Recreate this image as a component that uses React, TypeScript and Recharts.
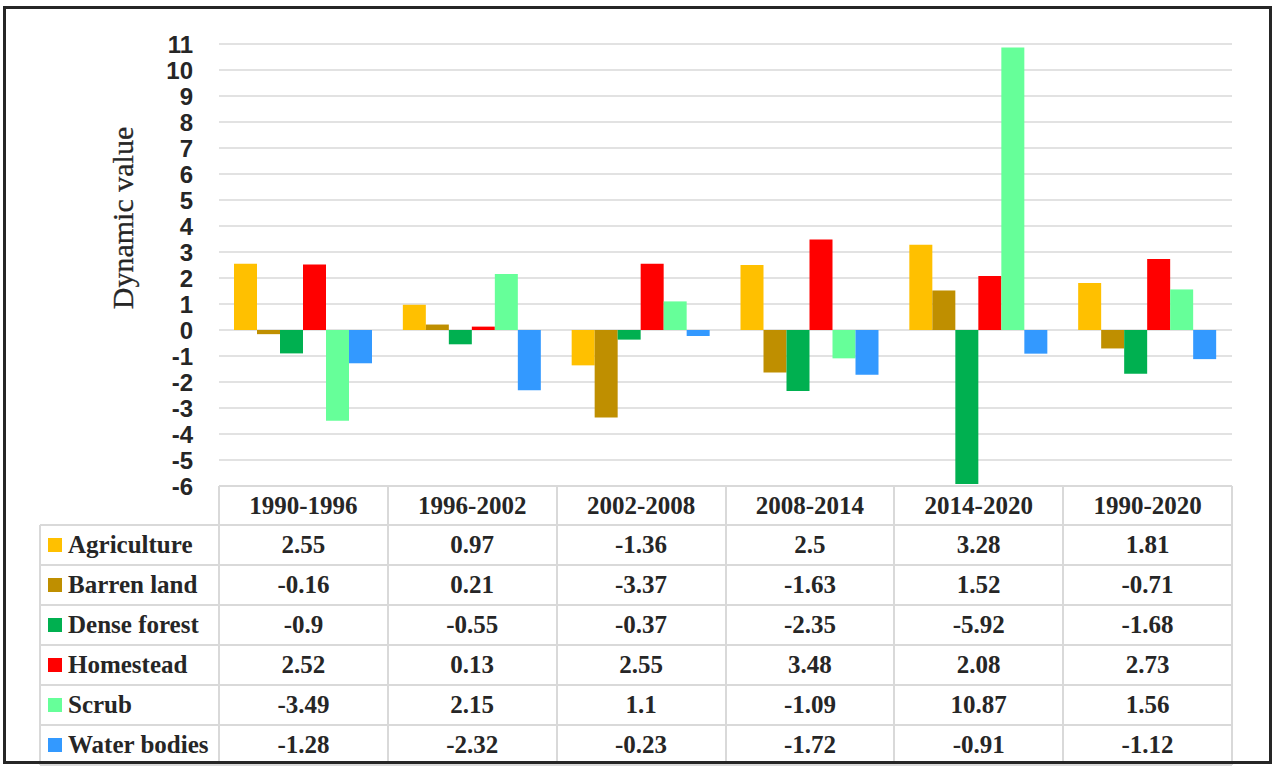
import React from "react";
import { Bar, BarChart, CartesianGrid, XAxis, YAxis } from "recharts";

const periods = ["1990-1996", "1996-2002", "2002-2008", "2008-2014", "2014-2020", "1990-2020"];

const agriculture = [2.55, 0.97, -1.36, 2.5, 3.28, 1.81];
const barrenLand = [-0.16, 0.21, -3.37, -1.63, 1.52, -0.71];
const denseForest = [-0.9, -0.55, -0.37, -2.35, -5.92, -1.68];
const homestead = [2.52, 0.13, 2.55, 3.48, 2.08, 2.73];
const scrub = [-3.49, 2.15, 1.1, -1.09, 10.87, 1.56];
const waterBodies = [-1.28, -2.32, -0.23, -1.72, -0.91, -1.12];

const yTicks = [-6, -5, -4, -3, -2, -1, 0, 1, 2, 3, 4, 5, 6, 7, 8, 9, 10, 11];

const series = [
  { key: "agriculture", name: "Agriculture", values: agriculture, color: "#FFC000" },
  { key: "barren", name: "Barren land", values: barrenLand, color: "#BF8F00" },
  { key: "dense", name: "Dense forest", values: denseForest, color: "#00B050" },
  { key: "homestead", name: "Homestead", values: homestead, color: "#FF0000" },
  { key: "scrub", name: "Scrub", values: scrub, color: "#66FF99" },
  { key: "water", name: "Water bodies", values: waterBodies, color: "#3399FF" },
];

const data = periods.map((period, i) => {
  const row: Record<string, string | number> = { period };
  series.forEach((s) => (row[s.key] = s.values[i]));
  return row;
});

// plot area geometry (px)
const PLOT_LEFT = 219;
const PLOT_RIGHT = 1232;
const PLOT_TOP = 44;
const PLOT_BOTTOM = 486;
const HEADER_H = 39;
const ROW_H = 40;
const LEGEND_LEFT = 40;
const colW = (PLOT_RIGHT - PLOT_LEFT) / periods.length;

const gridColor = "#d9d9d9";
const textColor = "#262626";
const serif = "'Liberation Serif', 'Times New Roman', serif";

const cellText: React.CSSProperties = {
  position: "absolute",
  fontFamily: serif,
  fontWeight: 700,
  fontSize: 25,
  color: textColor,
  display: "flex",
  alignItems: "center",
  boxSizing: "border-box",
  whiteSpace: "nowrap",
};

function DataTable() {
  const bodyTop = PLOT_BOTTOM + HEADER_H;
  const lines: React.ReactNode[] = [];
  lines.push(
    <div key="h-top" style={{ position: "absolute", left: PLOT_LEFT, top: PLOT_BOTTOM - 1, width: PLOT_RIGHT - PLOT_LEFT, height: 2, background: gridColor }} />
  );
  for (let r = 0; r <= series.length; r++) {
    lines.push(
      <div key={"r" + r} style={{ position: "absolute", left: LEGEND_LEFT, top: bodyTop + r * ROW_H - 1, width: PLOT_RIGHT - LEGEND_LEFT, height: 2, background: gridColor }} />
    );
  }
  lines.push(
    <div key="v-legend" style={{ position: "absolute", left: LEGEND_LEFT - 1, top: bodyTop, width: 2, height: ROW_H * series.length, background: gridColor }} />
  );
  for (let c = 0; c <= periods.length; c++) {
    lines.push(
      <div key={"c" + c} style={{ position: "absolute", left: PLOT_LEFT + c * colW - 1, top: PLOT_BOTTOM, width: 2, height: HEADER_H + ROW_H * series.length, background: gridColor }} />
    );
  }

  return (
    <>
      {lines}
      {periods.map((p, c) => (
        <div key={p} style={{ ...cellText, left: PLOT_LEFT + c * colW, top: PLOT_BOTTOM, width: colW, height: HEADER_H, justifyContent: "center" }}>
          {p}
        </div>
      ))}
      {series.map((s, r) => (
        <React.Fragment key={s.key}>
          <div style={{ ...cellText, left: LEGEND_LEFT + 8, top: bodyTop + r * ROW_H, height: ROW_H }}>
            <span style={{ display: "inline-block", width: 14, height: 14, background: s.color, marginRight: 6 }} />
            {s.name}
          </div>
          {s.values.map((v, c) => (
            <div key={c} style={{ ...cellText, left: PLOT_LEFT + c * colW, top: bodyTop + r * ROW_H, width: colW, height: ROW_H, justifyContent: "center" }}>
              {String(v)}
            </div>
          ))}
        </React.Fragment>
      ))}
    </>
  );
}

export default function App() {
  return (
    <div style={{ position: "fixed", left: 0, top: 0, width: 1278, height: 767, background: "#fff", overflow: "hidden" }}>
      <BarChart
        width={1278}
        height={767}
        data={data}
        barGap={0}
        margin={{ top: PLOT_TOP, right: 1278 - PLOT_RIGHT, bottom: 767 - PLOT_BOTTOM, left: PLOT_LEFT - 60 }}
      >
        <CartesianGrid vertical={false} stroke={gridColor} strokeWidth={1.5} />
        <XAxis dataKey="period" hide />
        <YAxis
          width={60}
          domain={[-6, 11]}
          ticks={yTicks}
          interval={0}
          axisLine={false}
          tickLine={false}
          tickSize={0}
          tickMargin={26}
          tick={{ fontSize: 24, fontWeight: 700, fill: textColor, fontFamily: "'Liberation Sans', Arial, sans-serif" }}
          label={{
            value: "Dynamic value",
            angle: -90,
            position: "insideLeft",
            dx: -42,
            dy: -47,
            style: { fontFamily: serif, fontSize: 30, fill: textColor, stroke: textColor, strokeWidth: 0.3, textAnchor: "middle" },
          }}
        />
        {series.map((s) => (
          <Bar key={s.key} dataKey={s.key} name={s.name} fill={s.color} barSize={23} isAnimationActive={false} />
        ))}
      </BarChart>
      <DataTable />
      <div style={{ position: "absolute", left: 3, top: 6, width: 1269, height: 758, border: "3px solid #262626", boxSizing: "border-box", pointerEvents: "none" }} />
    </div>
  );
}
